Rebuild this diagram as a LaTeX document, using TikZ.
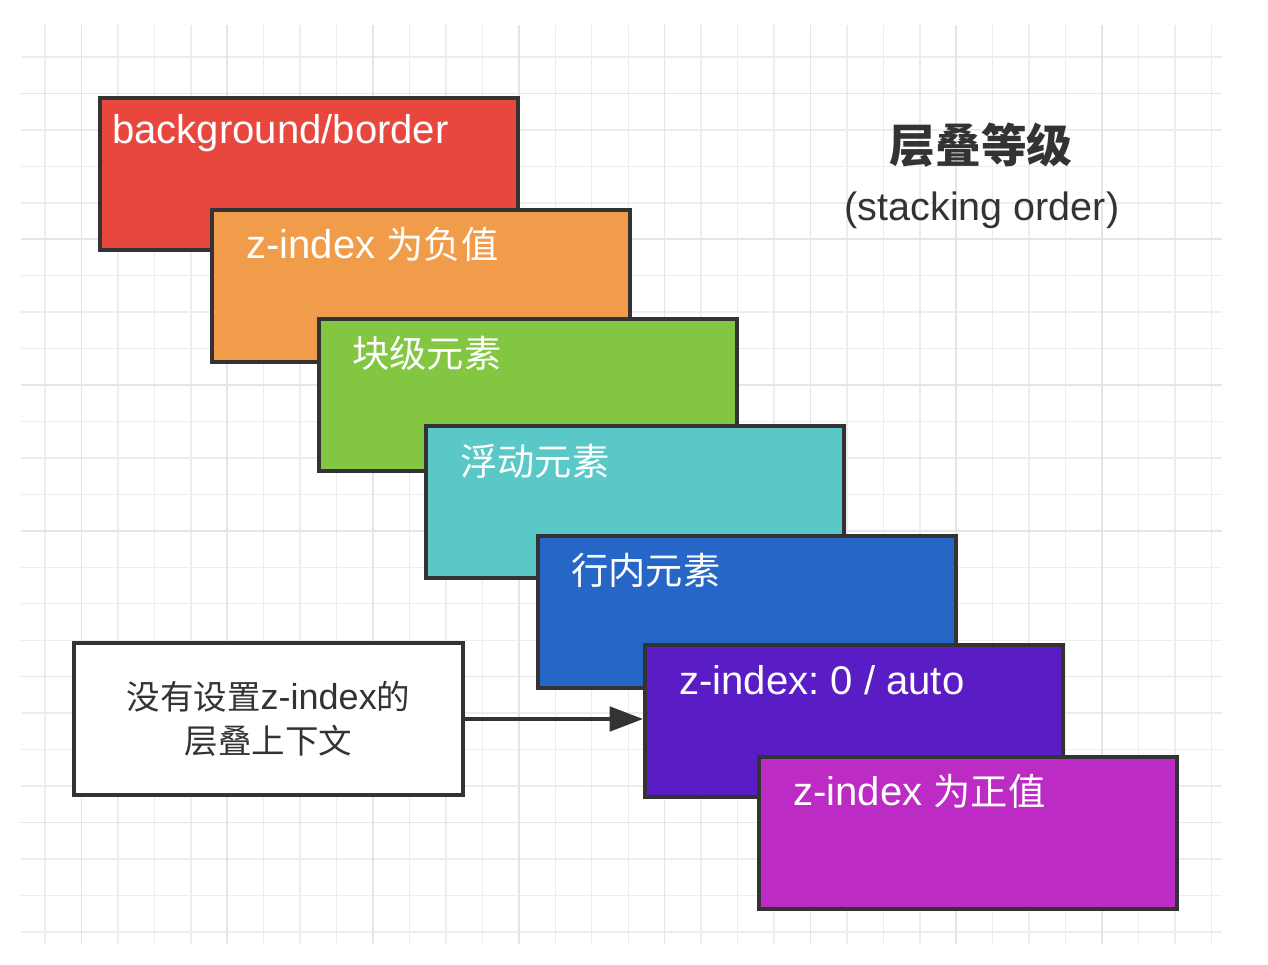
\documentclass[tikz,border=0pt]{standalone}
\usepackage{fontspec}
\setmainfont{Liberation Sans}
\newfontfamily\cjk[Scale=0.93]{Noto Sans CJK SC}
\usetikzlibrary{arrows.meta}

\definecolor{zline}{HTML}{333333}
\definecolor{zred}{HTML}{E8473E}
\definecolor{zorange}{HTML}{F09C4B}
\definecolor{zgreen}{HTML}{82C641}
\definecolor{zteal}{HTML}{5BC8C8}
\definecolor{zblue}{HTML}{2566C6}
\definecolor{zpurple}{HTML}{5A1CC4}
\definecolor{zmagenta}{HTML}{BC2CC4}

\begin{document}
\frenchspacing
\begin{tikzpicture}[x=0.02cm, y=-0.02cm,
    gridline/.style={draw=black!7, line width=0.8pt},
    gridmajor/.style={draw=black!10, line width=0.9pt},
    zbox/.style={draw=zline, line width=2.3pt, anchor=north west, inner sep=0pt,
      minimum width=8.36cm, minimum height=3.04cm},
    ztext/.style={text=white, anchor=west, inner sep=0pt,
      font=\fontsize{22.8}{27}\selectfont}]
    \useasboundingbox (0,0) rectangle (1268,964);
    % grid paper
    \begin{scope}
      \clip (21,25) rectangle (1222,944);
      \foreach \k in {0,...,32}
        \draw[gridline] ({45+36.45*\k},25) -- ({45+36.45*\k},944);
      \foreach \k in {0,...,24}
        \draw[gridline] (21,{57+36.45*\k}) -- (1222,{57+36.45*\k});
      \foreach \k in {1,5,...,29}
        \draw[gridmajor] ({45+36.45*\k},25) -- ({45+36.45*\k},944);
      \foreach \k in {1,5,...,21}
        \draw[gridmajor] (21,{57+36.45*\k}) -- (1222,{57+36.45*\k});
    \end{scope}

    \node[zbox, fill=zred] (bg) at (98,96) {};
    \node[ztext] (bgtext) at (112,133) {background/border};
    \node[zbox, fill=zorange] (neg) at (210,208) {};
    \node[ztext] (negtext) at (246,244) {z-index \cjk 为负值};
    \node[zbox, fill=zgreen] (block) at (317,317) {};
    \node[ztext] (blocktext) at (352,353) {\cjk 块级元素};
    \node[zbox, fill=zteal] (float) at (424,424) {};
    \node[ztext] (floattext) at (460,461) {\cjk 浮动元素};
    \node[zbox, fill=zblue] (inline) at (536,534) {};
    \node[ztext] (inlinetext) at (571,570) {\cjk 行内元素};
    \node[zbox, fill=zpurple] (zero) at (643,643) {};
    \node[ztext] (zerotext) at (679,680) {z-index: 0 / auto};
    \node[zbox, fill=zmagenta] (pos) at (757,755) {};
    \node[ztext] (postext) at (793,791) {z-index \cjk 为正值};

    \node[draw=zline, line width=2.3pt, fill=white, minimum width=7.78cm,
      minimum height=3.04cm, align=center, text=zline,
      font=\fontsize{20.5}{25}\selectfont] (ctx) at (268.5,719)
      {{\cjk 没有设置}z-index{\cjk 的}\\{\cjk 层叠上下文}};
    \draw[draw=zline, line width=1.8pt, -{Triangle[length=19pt,width=14pt]}]
      (ctx.east) -- (ctx.east -| zero.west);

    \node[text=zline, font=\cjk\bfseries\fontsize{28}{32}\selectfont] (title)
      at (981,145) {层叠等级};
    \node[text=zline, font=\fontsize{22.5}{27}\selectfont] (subtitle)
      at (982,210) {(stacking order)};
\end{tikzpicture}
\end{document}
